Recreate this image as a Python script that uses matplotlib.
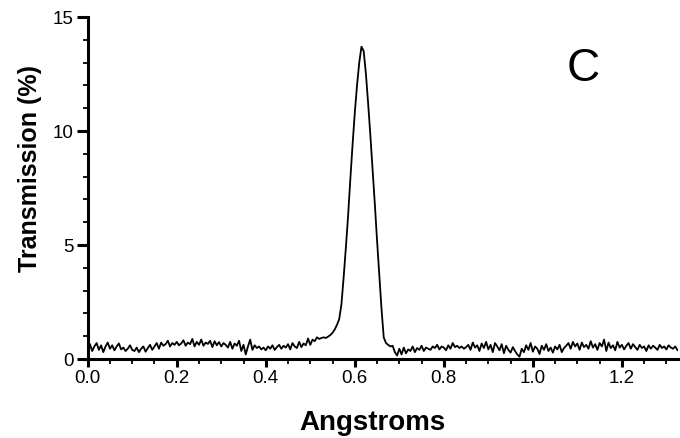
import matplotlib.pyplot as plt
import numpy as np
from matplotlib.ticker import MultipleLocator

plt.rcParams["font.family"] = ["Liberation Sans", "DejaVu Sans"]

# Transmission trace, sampled every 0.005 Angstrom
baseline_left = [
    0.45, 0.65, 0.35, 0.55, 0.70, 0.40, 0.60, 0.30, 0.55, 0.72,
    0.45, 0.60, 0.38, 0.55, 0.68, 0.42, 0.50, 0.35, 0.45, 0.60,
    0.40, 0.35, 0.50, 0.30, 0.45, 0.55, 0.32, 0.48, 0.62, 0.40,
    0.55, 0.70, 0.45, 0.72, 0.58, 0.65, 0.80, 0.55, 0.70, 0.62,
    0.75, 0.60, 0.68, 0.82, 0.58, 0.72, 0.65, 0.88, 0.55, 0.75,
    0.62, 0.85, 0.58, 0.72, 0.66, 0.80, 0.52, 0.78, 0.60, 0.74,
    0.55, 0.70, 0.62, 0.50, 0.75, 0.45, 0.68, 0.58, 0.80, 0.35,
    0.62, 0.20, 0.55, 0.85, 0.40, 0.60, 0.48, 0.55, 0.42, 0.50,
    0.38, 0.55, 0.45, 0.60, 0.40, 0.52, 0.62, 0.45, 0.58, 0.50,
    0.65, 0.42, 0.70, 0.55, 0.48, 0.75, 0.52, 0.68, 0.60, 0.90,
    0.62, 0.85, 0.78, 0.95, 0.88, 0.92,
]
peak = [
    0.95, 0.92, 0.98, 1.05, 1.15, 1.30, 1.50, 1.75, 2.40, 3.60,
    4.90, 6.30, 7.90, 9.40, 10.8, 12.0, 13.0, 13.7, 13.5, 12.5,
    11.2, 9.8, 8.3, 6.8, 5.2, 3.7, 2.2, 0.95, 0.70, 0.62,
    0.55, 0.58,
]
baseline_right = [
    0.30, 0.15, 0.45, 0.20, 0.50, 0.25, 0.42, 0.35, 0.55, 0.30,
    0.48, 0.40, 0.58, 0.35, 0.50, 0.45, 0.40, 0.55, 0.48, 0.62,
    0.42, 0.55, 0.50, 0.38, 0.60, 0.45, 0.70, 0.52, 0.58, 0.48,
    0.55, 0.45, 0.52, 0.62, 0.40, 0.72, 0.50, 0.60, 0.35, 0.68,
    0.48, 0.75, 0.42, 0.62, 0.30, 0.70, 0.55, 0.38, 0.65, 0.25,
    0.58, 0.40, 0.28, 0.52, 0.35, 0.20, 0.10, 0.45, 0.30, 0.60,
    0.40, 0.70, 0.32, 0.55, 0.45, 0.22, 0.58, 0.40, 0.65, 0.35,
    0.50, 0.28, 0.55, 0.42, 0.62, 0.30, 0.48, 0.58, 0.70, 0.45,
    0.75, 0.55, 0.68, 0.40, 0.72, 0.52, 0.62, 0.45, 0.78, 0.50,
    0.65, 0.40, 0.70, 0.55, 0.85, 0.35, 0.72, 0.48, 0.60, 0.38,
    0.75, 0.50, 0.62, 0.42, 0.58, 0.70, 0.45, 0.65, 0.52, 0.40,
    0.62, 0.48, 0.55, 0.35, 0.60, 0.45, 0.58, 0.50, 0.40, 0.62,
    0.48, 0.55, 0.42, 0.60, 0.50, 0.45, 0.55, 0.38, 0.48,
]
transmission = np.array(baseline_left + peak + baseline_right)
angstroms = np.arange(len(transmission)) * 0.005

fig = plt.figure(figsize=(6.8, 4.39), dpi=100)
ax = fig.add_axes([0.129, 0.18, 0.868, 0.779])

ax.plot(angstroms, transmission, color="black", lw=1.3)

ax.set_xlim(0, 1.326)
ax.set_ylim(0, 15)
ax.xaxis.set_major_locator(MultipleLocator(0.2))
ax.xaxis.set_minor_locator(MultipleLocator(0.05))
ax.yaxis.set_major_locator(MultipleLocator(5))
ax.yaxis.set_minor_locator(MultipleLocator(1))
ax.xaxis.set_major_formatter(lambda v, p: f"{v:.1f}")

for s in ["top", "right"]:
    ax.spines[s].set_visible(False)
for s in ["left", "bottom"]:
    ax.spines[s].set_linewidth(2.2)

ax.tick_params(which="major", width=2.2, labelsize=13.5, pad=2)
ax.tick_params(axis="x", which="major", length=5.5)
ax.tick_params(axis="y", which="major", length=8)
ax.tick_params(which="minor", length=3.5, width=1.3)

ax.set_xlabel("Angstroms", fontsize=20, fontweight="bold")
ax.xaxis.set_label_coords(0.482, -0.147)
ax.set_ylabel("Transmission (%)", fontsize=18, fontweight="bold")
ax.yaxis.set_label_coords(-0.078, 0.56)

ax.text(0.839, 0.852, "C", transform=ax.transAxes, fontsize=33,
        ha="center", va="center")

fig.savefig("out.png", dpi=100)
